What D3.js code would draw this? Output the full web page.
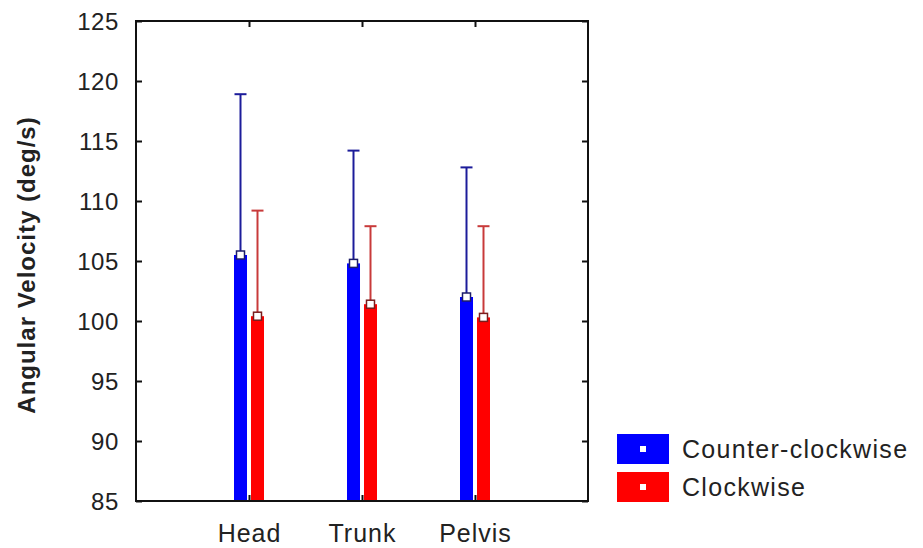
<!DOCTYPE html>
<html>
<head>
<meta charset="utf-8">
<script src="https://cdn.jsdelivr.net/npm/d3@7/dist/d3.min.js"></script>
<style>
  body { margin: 0; background: #fff; }
  svg { display: block; font-family: "Liberation Sans", Arial, sans-serif; }
</style>
</head>
<body>
<svg id="chart" width="923" height="548"></svg>
<script>
const categories = ["Head", "Trunk", "Pelvis"];
const seriesNames = ["Counter-clockwise", "Clockwise"];
const ccwMeans = [105.5, 104.8, 102.0];
const ccwErrors = [13.4, 9.4, 10.8];
const cwMeans = [100.4, 101.4, 100.3];
const cwErrors = [8.8, 6.5, 7.6];
const yTicks = [85, 90, 95, 100, 105, 110, 115, 120, 125];
const yLabel = "Angular Velocity (deg/s)";

const fills = ["#0000ff", "#ff0000"];
const lineColors = ["#1c1c9a", "#c83a3a"];
const markerStroke = ["#1c1c6a", "#7a1c1c"];

const svg = d3.select("#chart");
const L = 136, R = 588, T = 21, B = 501;

const x = d3.scalePoint().domain(categories).range([L, R]).padding(1);
const xs = d3.scaleBand().domain(seriesNames).range([-15, 15]).paddingInner(0.235);
const y = d3.scaleLinear().domain([85, 125]).range([B, T]);

const data = [];
categories.forEach((c, i) => {
  data.push({cat: c, s: 0, mean: ccwMeans[i], err: ccwErrors[i]});
  data.push({cat: c, s: 1, mean: cwMeans[i], err: cwErrors[i]});
});

const g = svg.append("g");

// bars
g.selectAll("rect.bar").data(data).enter().append("rect")
  .attr("x", d => x(d.cat) + xs(seriesNames[d.s]))
  .attr("width", xs.bandwidth())
  .attr("y", d => y(d.mean))
  .attr("height", d => y(85) - y(d.mean))
  .attr("fill", d => fills[d.s]);

// error bars
const cx = d => x(d.cat) + xs(seriesNames[d.s]) + xs.bandwidth() / 2;
g.selectAll("line.err").data(data).enter().append("line")
  .attr("x1", cx).attr("x2", cx)
  .attr("y1", d => y(d.mean)).attr("y2", d => y(d.mean + d.err))
  .attr("stroke", d => lineColors[d.s]).attr("stroke-width", 2);
g.selectAll("line.cap").data(data).enter().append("line")
  .attr("x1", d => cx(d) - 6).attr("x2", d => cx(d) + 6)
  .attr("y1", d => y(d.mean + d.err)).attr("y2", d => y(d.mean + d.err))
  .attr("stroke", d => lineColors[d.s]).attr("stroke-width", 2);

// markers
g.selectAll("rect.mk").data(data).enter().append("rect")
  .attr("x", d => cx(d) - 4).attr("y", d => y(d.mean) - 4)
  .attr("width", 8).attr("height", 8)
  .attr("fill", "#fff")
  .attr("stroke", d => markerStroke[d.s]).attr("stroke-width", 1.5);

// frame
svg.append("rect").attr("x", L).attr("y", T).attr("width", R - L).attr("height", B - T)
  .attr("fill", "none").attr("stroke", "#111").attr("stroke-width", 2);

// y axis (left), ticks inward
const yAxis = svg.append("g").attr("transform", `translate(${L},0)`)
  .call(d3.axisLeft(y).tickValues(yTicks).tickSize(-6).tickPadding(17).tickFormat(d3.format("d")));
yAxis.select(".domain").remove();
yAxis.selectAll("line").attr("stroke", "#111").attr("stroke-width", 2);
yAxis.selectAll("text").attr("font-size", 24).attr("letter-spacing", 0.6)
  .attr("fill", "#222").attr("dy", "0.36em");

// right ticks inward
const yAxisR = svg.append("g").attr("transform", `translate(${R},0)`)
  .call(d3.axisRight(y).tickValues(yTicks).tickSize(-6).tickFormat(""));
yAxisR.select(".domain").remove();
yAxisR.selectAll("line").attr("stroke", "#111").attr("stroke-width", 2);

// bottom axis
const xAxis = svg.append("g").attr("transform", `translate(0,${B})`)
  .call(d3.axisBottom(x).tickSize(-6).tickPadding(23));
xAxis.select(".domain").remove();
xAxis.selectAll("line").attr("stroke", "#111").attr("stroke-width", 2);
xAxis.selectAll("text").attr("font-size", 25).attr("letter-spacing", 1).attr("fill", "#222");

// top ticks
const xAxisT = svg.append("g").attr("transform", `translate(0,${T})`)
  .call(d3.axisTop(x).tickSize(-6).tickFormat(""));
xAxisT.select(".domain").remove();
xAxisT.selectAll("line").attr("stroke", "#111").attr("stroke-width", 2);

// y label
svg.append("text")
  .attr("transform", `translate(35,${(T + B) / 2 + 4}) rotate(-90)`)
  .attr("text-anchor", "middle")
  .attr("font-size", 24).attr("letter-spacing", 1).attr("font-weight", "bold").attr("fill", "#222")
  .text(yLabel);

// legend
const leg = svg.append("g");
seriesNames.forEach((s, i) => {
  const yy = 434 + i * 38;
  leg.append("rect").attr("x", 617).attr("y", yy).attr("width", 52).attr("height", 30)
    .attr("fill", fills[i]);
  leg.append("rect").attr("x", 640).attr("y", yy + 12).attr("width", 6).attr("height", 6)
    .attr("fill", "#fff");
  leg.append("text").attr("x", 682).attr("y", yy + 24)
    .attr("font-size", 25).attr("letter-spacing", 1.3).attr("fill", "#222").text(s);
});
</script>
</body>
</html>
